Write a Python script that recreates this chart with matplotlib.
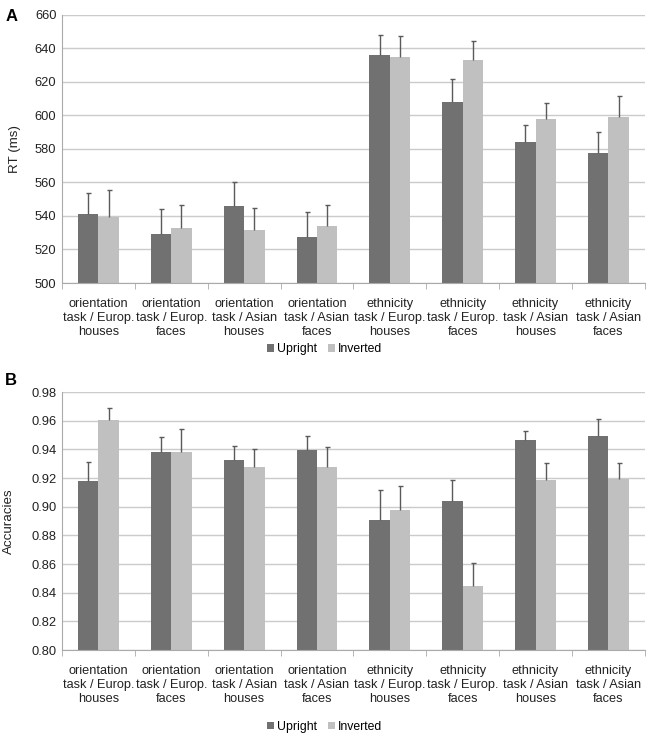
import numpy as np
import matplotlib
matplotlib.use("Agg")
import matplotlib.pyplot as plt

plt.rcParams['font.family'] = ['Liberation Sans', 'DejaVu Sans']

# Categories (task / stimulus set)
categories = ["orientation\ntask / Europ.\nhouses", "orientation\ntask / Europ.\nfaces",
              "orientation\ntask / Asian\nhouses", "orientation\ntask / Asian\nfaces",
              "ethnicity\ntask / Europ.\nhouses", "ethnicity\ntask / Europ.\nfaces",
              "ethnicity\ntask / Asian\nhouses", "ethnicity\ntask / Asian\nfaces"]

# Panel A: reaction times (ms)
rt_upright = [541.0, 529.5, 546.0, 527.5, 635.7, 608.0, 584.3, 577.7]
rt_upright_err = [12.8, 14.7, 14.2, 14.7, 12.3, 13.8, 10.0, 12.1]
rt_inverted = [539.3, 533.0, 531.8, 533.8, 634.9, 633.2, 597.7, 599.2]
rt_inverted_err = [16.3, 13.6, 13.0, 12.5, 12.5, 11.2, 9.9, 12.2]

# Panel B: accuracies
acc_upright = [0.9177, 0.9379, 0.9326, 0.9395, 0.8907, 0.9037, 0.9465, 0.9495]
acc_upright_err = [0.0135, 0.0105, 0.0100, 0.0098, 0.0207, 0.0151, 0.0065, 0.0115]
acc_inverted = [0.9607, 0.9380, 0.9279, 0.9280, 0.8979, 0.8447, 0.9186, 0.9195]
acc_inverted_err = [0.0081, 0.0160, 0.0121, 0.0140, 0.0165, 0.0160, 0.0119, 0.0112]

upright_color = '#717171'
inverted_color = '#c0c0c0'
grid_color = '#cbcbcb'
text_color = '#222222'


def hide_lower_caps(bars, heights):
    # only the upper half of the error bar is shown, so drop the cap at the bar top
    for cap in bars.errorbar.lines[1]:
        if np.allclose(cap.get_ydata(), heights):
            cap.set_visible(False)


def draw_panel(ax, up, up_err, inv, inv_err, ylim, yticks, fmt, ylabel, legend_y):
    x = np.arange(len(categories))
    w = 0.28
    zeros = np.zeros(len(up))
    ekw = dict(ecolor='#5a5a5a', elinewidth=1.0, capsize=1.8, capthick=1.0)
    b1 = ax.bar(x - w / 2, up, w, color=upright_color, label='Upright', zorder=2,
                yerr=[zeros, up_err], error_kw=ekw)
    b2 = ax.bar(x + w / 2, inv, w, color=inverted_color, label='Inverted', zorder=2,
                yerr=[zeros, inv_err], error_kw=ekw)
    hide_lower_caps(b1, up)
    hide_lower_caps(b2, inv)
    ax.set_xlim(-0.5, len(categories) - 0.5)
    ax.set_ylim(*ylim)
    ax.set_yticks(yticks)
    ax.set_yticklabels([fmt.format(v) for v in yticks], fontsize=9.3, color=text_color)
    ax.yaxis.grid(True, color=grid_color, linewidth=1.0, zorder=0)
    ax.set_axisbelow(True)
    ax.tick_params(axis='y', length=0, pad=4)
    # category labels centered, boundary ticks
    ax.set_xticks(x)
    ax.set_xticklabels(categories, fontsize=9.2, linespacing=1.2, color=text_color)
    ax.tick_params(axis='x', which='major', length=0, pad=11)
    ax.set_xticks(np.arange(-0.5, len(categories)), minor=True)
    ax.tick_params(axis='x', which='minor', length=4, color='#aaaaaa', direction='out')
    for s in ['top', 'right']:
        ax.spines[s].set_visible(False)
    for s in ['left', 'bottom']:
        ax.spines[s].set_color('#aaaaaa')
    ax.set_ylabel(ylabel, fontsize=9.6, color=text_color)
    fig.legend(handles=[b1, b2], loc='center', bbox_to_anchor=(0.5, legend_y), ncol=2,
               frameon=False, fontsize=8.8, handlelength=0.55, handleheight=0.55,
               handletextpad=0.25, columnspacing=0.9)


fig = plt.figure(figsize=(6.49, 7.37), dpi=100)
ax1 = fig.add_axes([0.0955, 0.616, 0.898, 0.364])
ax2 = fig.add_axes([0.0955, 0.118, 0.898, 0.350])

draw_panel(ax1, rt_upright, rt_upright_err, rt_inverted, rt_inverted_err,
           (500, 660), np.arange(500, 661, 20), '{:.0f}', 'RT (ms)', 0.526)
draw_panel(ax2, acc_upright, acc_upright_err, acc_inverted, acc_inverted_err,
           (0.80, 0.98), np.round(np.arange(0.80, 0.981, 0.02), 2), '{:.2f}', 'Accuracies', 0.0136)
ax1.yaxis.set_label_coords(-0.07, 0.5)
ax2.yaxis.set_label_coords(-0.08, 0.5)

fig.text(0.008, 0.978, 'A', fontsize=12, fontweight='bold', va='center')
fig.text(0.008, 0.484, 'B', fontsize=12, fontweight='bold', va='center')

fig.savefig('out.png', dpi=100)
